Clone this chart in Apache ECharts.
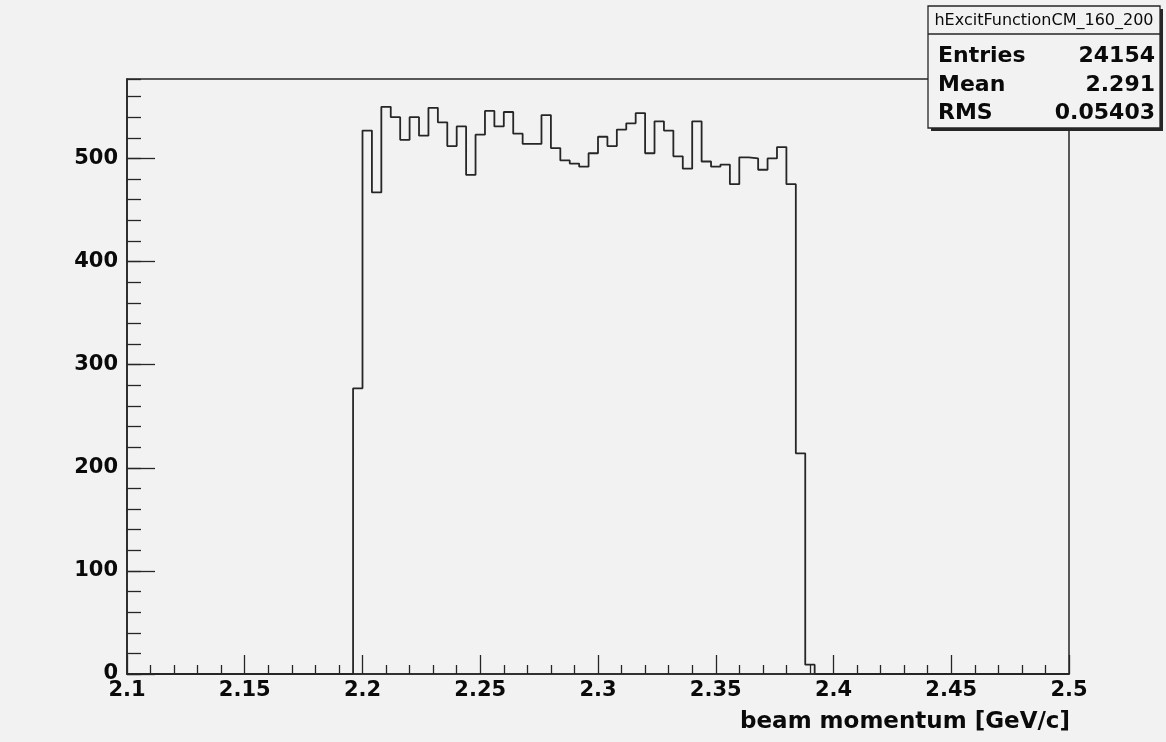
<!DOCTYPE html>
<html>
<head>
<meta charset="utf-8">
<script src="https://cdn.jsdelivr.net/npm/echarts@6/dist/echarts.min.js"></script>
<style>
  html, body { margin: 0; padding: 0; background: #f2f2f2; }
  #chart { width: 1166px; height: 742px; }
</style>
</head>
<body>
<div id="chart"></div>
<script>
// Histogram hExcitFunctionCM_160_200: 100 bins of 0.004 GeV/c between 2.1 and 2.5.
// Only bins 24..72 are filled; all other bins are empty.
const binLow = 2.1;
const binHigh = 2.5;
const binWidth = 0.004;
const firstFilledBin = 24;
const binCounts = [
  277, 527, 467, 550, 540, 518, 540, 522, 549, 535, 512, 531,
  484, 523, 546, 531, 545, 524, 514, 514, 542, 510, 498, 495,
  492, 505, 521, 512, 528, 534, 544, 505, 536, 527, 502, 490,
  536, 497, 492, 494, 475, 501, 500, 489, 500, 511, 475, 214, 9
];

// Statistics box
const statsTitle = 'hExcitFunctionCM_160_200';
const statsNames = ['Entries', 'Mean', 'RMS'];
const statsValues = ['24154', '2.291', '0.05403'];

// Axis settings
const xAxisTitle = 'beam momentum [GeV/c]';
const xTickStep = 0.05;
const yMax = 577;
const yMajorStep = 100;
const yMinorStep = 20;

const FONT = '"DejaVu Sans", "Liberation Sans", sans-serif';
const INK = '#262626';
const TEXT = '#0a0a0a';

// Outline points of the histogram: each filled bin contributes its lower edge and content.
const edge = (k) => +(binLow + k * binWidth).toFixed(3);
const outline = [[binLow, 0]];
binCounts.forEach((c, i) => outline.push([edge(firstFilledBin + i), c]));
outline.push([edge(firstFilledBin + binCounts.length), 0]);
outline.push([binHigh, 0]);

const chart = echarts.init(document.getElementById('chart'), null, { renderer: 'canvas' });

const frame = { left: 127, right: 97, top: 79, bottom: 68 };

const box = { x: 928, y: 6, w: 232, h: 122, sep: 34 };
const statsGraphics = [
  { type: 'rect', z: 100, shape: { x: box.x + 3, y: box.y + 3, width: box.w, height: box.h },
    style: { fill: INK } },
  { type: 'rect', z: 101, shape: { x: box.x, y: box.y, width: box.w, height: box.h },
    style: { fill: '#f2f2f2', stroke: INK, lineWidth: 1.3 } },
  { type: 'line', z: 102, shape: { x1: box.x, y1: box.sep, x2: box.x + box.w, y2: box.sep },
    style: { stroke: INK, lineWidth: 1.3 } },
  { type: 'text', z: 103, x: box.x + box.w / 2, y: (box.y + box.sep) / 2 + 1,
    style: { text: statsTitle, font: '16px ' + FONT, fill: TEXT,
             align: 'center', verticalAlign: 'middle', textAlign: 'center', textVerticalAlign: 'middle' } }
];
const rowY = [56, 85, 113];
statsNames.forEach((name, i) => {
  statsGraphics.push({ type: 'text', z: 103, x: box.x + 10, y: rowY[i],
    style: { text: name, font: 'bold 22px ' + FONT, fill: TEXT,
             align: 'left', verticalAlign: 'middle', textAlign: 'left', textVerticalAlign: 'middle' } });
  statsGraphics.push({ type: 'text', z: 103, x: box.x + box.w - 5, y: rowY[i],
    style: { text: statsValues[i], font: 'bold 22px ' + FONT, fill: TEXT,
             align: 'right', verticalAlign: 'middle', textAlign: 'right', textVerticalAlign: 'middle' } });
});
statsGraphics.push({ type: 'text', z: 103, x: 1070, y: 722,
  style: { text: xAxisTitle, font: 'bold 23px ' + FONT, fill: TEXT,
           align: 'right', verticalAlign: 'middle', textAlign: 'right', textVerticalAlign: 'middle' } });

const option = {
  backgroundColor: '#f2f2f2',
  animation: false,
  grid: {
    left: frame.left, right: frame.right, top: frame.top, bottom: frame.bottom,
    containLabel: false, outerBoundsMode: 'none',
    show: true, borderColor: INK, borderWidth: 1.5, backgroundColor: 'transparent'
  },
  xAxis: {
    type: 'value', min: binLow, max: binHigh, interval: xTickStep,
    axisLine: { show: true, onZero: false, lineStyle: { color: INK, width: 1.6 } },
    axisTick: { show: true, inside: true, length: 19, lineStyle: { color: INK, width: 1.3 } },
    minorTick: { show: true, splitNumber: 5, length: 9, lineStyle: { color: INK, width: 1.3 } },
    splitLine: { show: false }, minorSplitLine: { show: false },
    axisLabel: { margin: 6, fontFamily: FONT, fontWeight: 'bold', fontSize: 21, color: TEXT,
                 showMinLabel: true, showMaxLabel: true, hideOverlap: false }
  },
  yAxis: [
    {
      type: 'value', position: 'left', min: 0, max: yMax, interval: yMajorStep,
      axisLine: { show: true, onZero: false, lineStyle: { color: INK, width: 1.6 } },
      axisTick: { show: true, inside: true, length: 28, lineStyle: { color: INK, width: 1.3 } },
      splitLine: { show: false },
      axisLabel: { margin: 9, fontFamily: FONT, fontWeight: 'bold', fontSize: 21, color: TEXT,
                   showMinLabel: true, showMaxLabel: false, hideOverlap: false,
                   formatter: (v) => (v % yMajorStep === 0 ? String(v) : '') }
    },
    {
      type: 'value', position: 'left', min: 0, max: yMax, interval: yMinorStep,
      axisLine: { show: false },
      axisTick: { show: true, inside: true, length: 14, lineStyle: { color: INK, width: 1.3 } },
      splitLine: { show: false },
      axisLabel: { show: false }
    }
  ],
  series: [{
    type: 'line', xAxisIndex: 0, yAxisIndex: 0,
    step: 'end', symbol: 'none', showSymbol: false,
    lineStyle: { color: INK, width: 1.8 },
    data: outline, clip: true, silent: true
  }],
  graphic: statsGraphics
};

chart.setOption(option);
</script>
</body>
</html>
